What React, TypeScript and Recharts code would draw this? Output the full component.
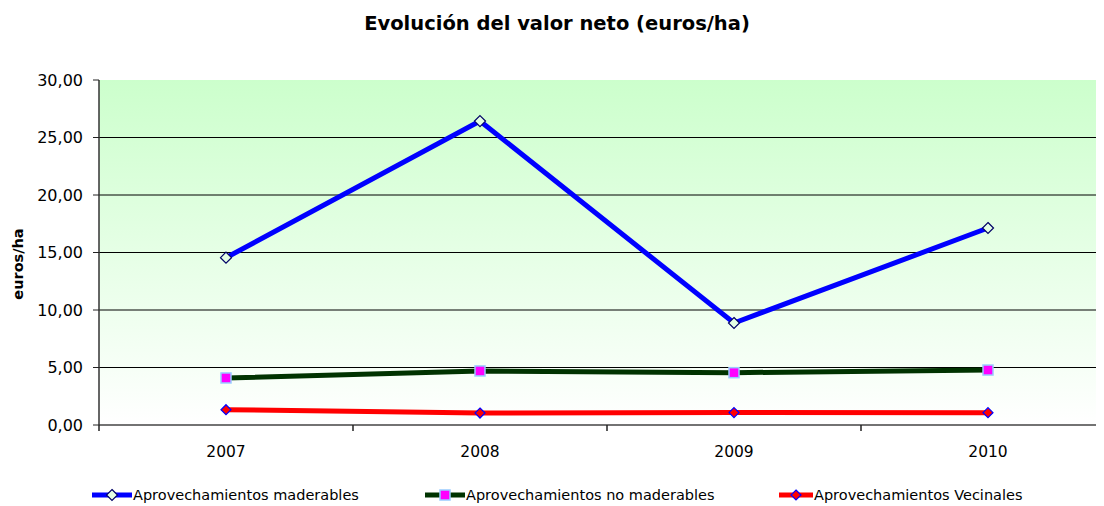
import React from 'react';
import { LineChart, Line, XAxis, YAxis, CartesianGrid } from 'recharts';

const categories = ['2007', '2008', '2009', '2010'];
const maderables = [14.55, 26.43, 8.87, 17.13];
const noMaderables = [4.09, 4.7, 4.55, 4.78];
const vecinales = [1.33, 1.04, 1.08, 1.07];
const seriesNames = [
  'Aprovechamientos maderables',
  'Aprovechamientos no maderables',
  'Aprovechamientos Vecinales',
];
const yTicks = [0, 5, 10, 15, 20, 25, 30];
const gridValues = [5, 10, 15, 20, 25];
const titleText = 'Evolución del valor neto (euros/ha)';
const yLabelText = 'euros/ha';

const data = categories.map((c, i) => ({
  year: c,
  m: maderables[i],
  n: noMaderables[i],
  v: vecinales[i],
}));

const W = 1120;
const H = 506;
const MARGIN = { top: 80, right: 5, left: 0, bottom: 41 };
const Y_W = 99;
const X_H = 40;
const BAND = (W - MARGIN.left - Y_W - MARGIN.right) / categories.length;
const FONT = '"DejaVu Sans", Verdana, sans-serif';

const OpenDiamond = ({ cx, cy }: any) => (
  <path
    d={`M${cx},${cy - 5.5} L${cx + 5.5},${cy} L${cx},${cy + 5.5} L${cx - 5.5},${cy} Z`}
    fill="#E4FFE4"
    stroke="#000066"
    strokeWidth={1.2}
  />
);
const MagentaSquare = ({ cx, cy }: any) => (
  <rect x={cx - 5} y={cy - 5} width={10} height={10} fill="#FF00FF" stroke="#99CCFF" strokeWidth={1.5} />
);
const RedDiamond = ({ cx, cy }: any) => (
  <path
    d={`M${cx},${cy - 5} L${cx + 5},${cy} L${cx},${cy + 5} L${cx - 5},${cy} Z`}
    fill="#FF0000"
    stroke="#0000FF"
    strokeWidth={1.2}
  />
);

const seriesStyles = [
  { key: 'm', color: '#0000FF', Marker: OpenDiamond },
  { key: 'n', color: '#003300', Marker: MagentaSquare },
  { key: 'v', color: '#FF0000', Marker: RedDiamond },
];

const legendLefts = [92, 425, 779];

const XTick = (props: any) => {
  const { x, y, payload } = props;
  return (
    <g>
      <line x1={x - BAND / 2} x2={x - BAND / 2} y1={y} y2={y + 6} stroke="#222" strokeWidth={1.5} />
      <text x={x} y={y + 32} textAnchor="middle" fontFamily={FONT} fontSize={15.5} fill="#000">
        {payload.value}
      </text>
    </g>
  );
};

const fmt = (v: number) => v.toFixed(2).replace('.', ',');

export default function App() {
  return (
    <div style={{ position: 'relative', width: W, height: H, margin: '-8px 0 0 -8px', background: '#fff' }}>
      <div
        style={{
          position: 'absolute',
          left: 0,
          top: 11,
          width: 1114,
          textAlign: 'center',
          fontFamily: FONT,
          fontWeight: 'bold',
          fontSize: 19.5,
          lineHeight: '26px',
          color: '#000',
        }}
      >
        {titleText}
      </div>
      <div
        style={{
          position: 'absolute',
          left: 18,
          top: 264,
          transform: 'translate(-50%, -50%) rotate(-90deg)',
          fontFamily: FONT,
          fontWeight: 'bold',
          fontSize: 14.5,
          whiteSpace: 'nowrap',
          color: '#000',
        }}
      >
        {yLabelText}
      </div>
      <LineChart width={W} height={H} data={data} margin={MARGIN}>
        <defs>
          <linearGradient id="bg" x1="0" y1="0" x2="0" y2="1">
            <stop offset="0%" stopColor="#CCFFCC" />
            <stop offset="100%" stopColor="#FFFFFF" />
          </linearGradient>
        </defs>
        <CartesianGrid
          fill="url(#bg)"
          fillOpacity={1}
          vertical={false}
          horizontalValues={gridValues}
          stroke="#000"
          strokeWidth={1}
        />
        <XAxis
          dataKey="year"
          height={X_H}
          tickLine={false}
          tickSize={0}
          tickMargin={0}
          tick={<XTick />}
          axisLine={{ stroke: '#444', strokeWidth: 1.5 }}
          interval={0}
          padding={{ left: BAND / 2, right: BAND / 2 }}
        />
        <YAxis
          width={Y_W}
          domain={[0, 30]}
          ticks={yTicks}
          tickFormatter={fmt}
          tickSize={6}
          tickMargin={10}
          tickLine={{ stroke: '#222' }}
          axisLine={{ stroke: '#333', strokeWidth: 1.5 }}
          tick={{ fontFamily: FONT, fontSize: 16, fill: '#000' }}
        />
        {seriesStyles.map((s) => (
          <Line
            key={s.key}
            dataKey={s.key}
            type="linear"
            stroke={s.color}
            strokeWidth={5}
            isAnimationActive={false}
            dot={(p: any) => <s.Marker key={`${s.key}-${p.index}`} cx={p.cx} cy={p.cy} />}
            activeDot={false}
          />
        ))}
      </LineChart>
      {seriesNames.map((name, i) => {
        const s = seriesStyles[i];
        const lineW = i === 2 ? 34 : 40;
        return (
          <div
            key={name}
            style={{
              position: 'absolute',
              left: legendLefts[i],
              top: 486,
              height: 18,
              display: 'flex',
              alignItems: 'center',
              fontFamily: FONT,
              fontSize: 14.5,
              color: '#000',
              whiteSpace: 'nowrap',
            }}
          >
            <svg width={lineW + 1} height={14} style={{ display: 'block' }}>
              <line x1={0} x2={lineW} y1={7} y2={7} stroke={s.color} strokeWidth={5} />
              <s.Marker cx={lineW / 2} cy={7} />
            </svg>
            <span>{name}</span>
          </div>
        );
      })}
    </div>
  );
}
